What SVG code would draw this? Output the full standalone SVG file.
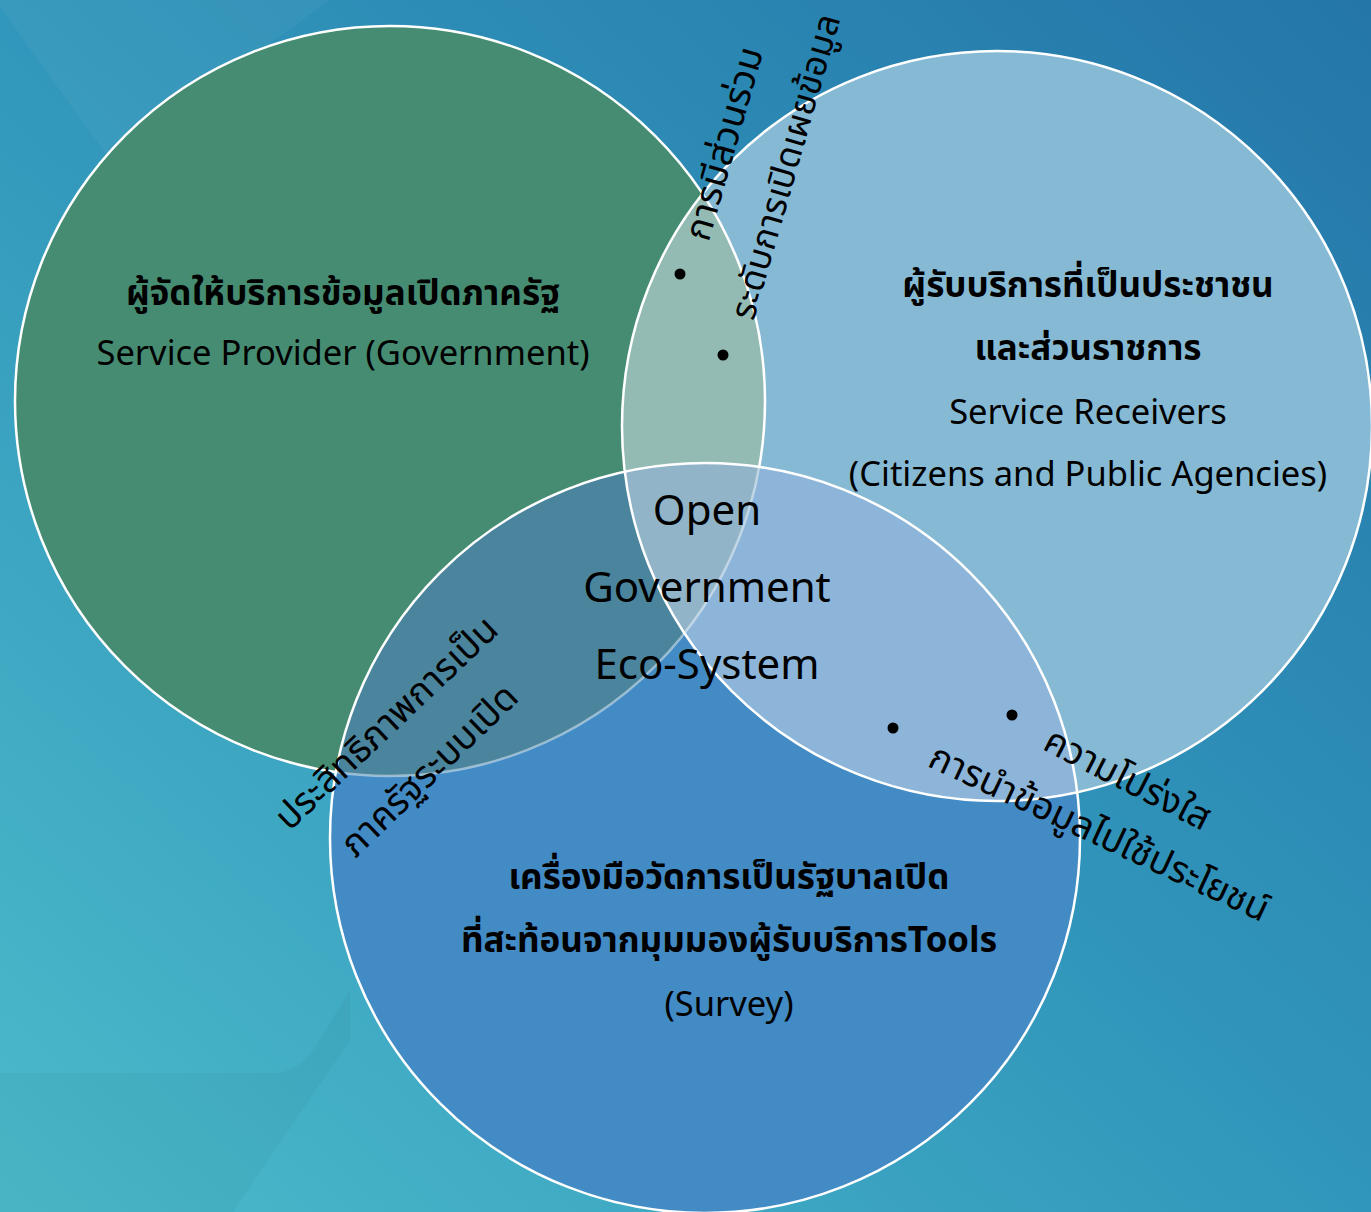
<svg xmlns="http://www.w3.org/2000/svg" width="1371" height="1212" viewBox="0 0 1371 1212">
<style>
.t{font-family:"Noto Sans Thai","Noto Sans","DejaVu Sans",sans-serif;fill:#000;text-anchor:middle}
.b{font-weight:bold;font-size:35px}
.lab{font-size:34.5px}
.ctr{font-size:42px}
.rot{font-size:37px}
.edge{fill:none;stroke:#fff;stroke-width:2.5}
</style>
<defs>
<linearGradient id="bg" x1="1" y1="0" x2="0" y2="1">
<stop offset="0" stop-color="#2476a9"/>
<stop offset="0.5" stop-color="#3196bb"/>
<stop offset="1" stop-color="#4cbbcb"/>
</linearGradient>
<clipPath id="cG"><circle cx="390" cy="401" r="375"/></clipPath>
<clipPath id="cL"><circle cx="997" cy="426" r="375"/></clipPath>
<clipPath id="cB"><circle cx="705" cy="838" r="375"/></clipPath>
<mask id="outB"><rect width="1371" height="1212" fill="#fff"/><circle cx="705" cy="838" r="375" fill="#000"/></mask>
</defs>
<rect width="1371" height="1212" fill="url(#bg)"/>
<path d="M0 0 L0 7 L110 160 L330 0 Z" fill="#fff" opacity="0.04"/>
<path d="M0 1073 L277 1073 Q300 1070 315 1047 L350 990 L350 1040 L233 1212 L0 1212 Z" fill="#000" opacity="0.03"/>

<g id="node-provider">
<circle cx="390" cy="401" r="375" fill="#468c72"/>
</g>
<g id="node-receivers">
<circle cx="997" cy="426" r="375" fill="#86bad4"/>
</g>
<g id="node-tools">
<circle cx="705" cy="838" r="375" fill="#438bc4"/>
</g>
<g id="overlaps">
<circle cx="390" cy="401" r="375" fill="#93bbb4" clip-path="url(#cL)"/>
<circle cx="390" cy="401" r="375" fill="#4a849d" clip-path="url(#cB)"/>
<circle cx="997" cy="426" r="375" fill="#8cb5d9" clip-path="url(#cB)"/>
<g clip-path="url(#cB)"><circle cx="390" cy="401" r="375" fill="#91b4c9" clip-path="url(#cL)"/></g>
</g>
<g id="edges">
<circle class="edge" cx="390" cy="401" r="375" mask="url(#outB)"/>
<circle class="edge" cx="390" cy="401" r="375" clip-path="url(#cB)" opacity="0.45"/>
<circle class="edge" cx="997" cy="426" r="375"/>
<circle class="edge" cx="705" cy="838" r="375"/>
</g>

<g id="label-provider">
<text class="t b" x="343" y="305">ผู้จัดให้บริการข้อมูลเปิดภาครัฐ</text>
<text class="t lab" x="343" y="365">Service Provider (Government)</text>
</g>
<g id="label-receivers">
<text class="t b" x="1088" y="297">ผู้รับบริการที่เป็นประชาชน</text>
<text class="t b" x="1088" y="360">และส่วนราชการ</text>
<text class="t lab" x="1088" y="424">Service Receivers</text>
<text class="t lab" x="1088" y="486">(Citizens and Public Agencies)</text>
</g>
<g id="label-tools">
<text class="t b" x="729" y="889">เครื่องมือวัดการเป็นรัฐบาลเปิด</text>
<text class="t b" x="729" y="952">ที่สะท้อนจากมุมมองผู้รับบริการTools</text>
<text class="t lab" x="729" y="1016">(Survey)</text>
</g>
<g id="label-center">
<text class="t ctr" x="707" y="525">Open</text>
<text class="t ctr" x="707" y="602">Government</text>
<text class="t ctr" x="707" y="679">Eco-System</text>
</g>

<g id="connectors">
<circle cx="680" cy="274" r="5.5" fill="#000"/>
<circle cx="723" cy="355" r="5.5" fill="#000"/>
<circle cx="893" cy="728" r="5.5" fill="#000"/>
<circle cx="1012" cy="715" r="5.5" fill="#000"/>
</g>
<g id="labels-rotated">
<text class="t rot" transform="translate(736,147) rotate(-74)">การมีส่วนร่วม</text>
<text class="t rot" transform="translate(797,170) rotate(-74)" style="font-size:35.5px">ระดับการเปิดเผยข้อมูล</text>
<text class="t rot" transform="translate(395,732) rotate(-43.5)">ประสิทธิภาพการเป็น</text>
<text class="t rot" transform="translate(438,779) rotate(-44)">ภาครัฐระบบเปิด</text>
<text class="t rot" transform="translate(1122,790) rotate(27)">ความโปร่งใส</text>
<text class="t rot" transform="translate(1094,844) rotate(25)">การนำข้อมูลไปใช้ประโยชน์</text>
</g>
</svg>
